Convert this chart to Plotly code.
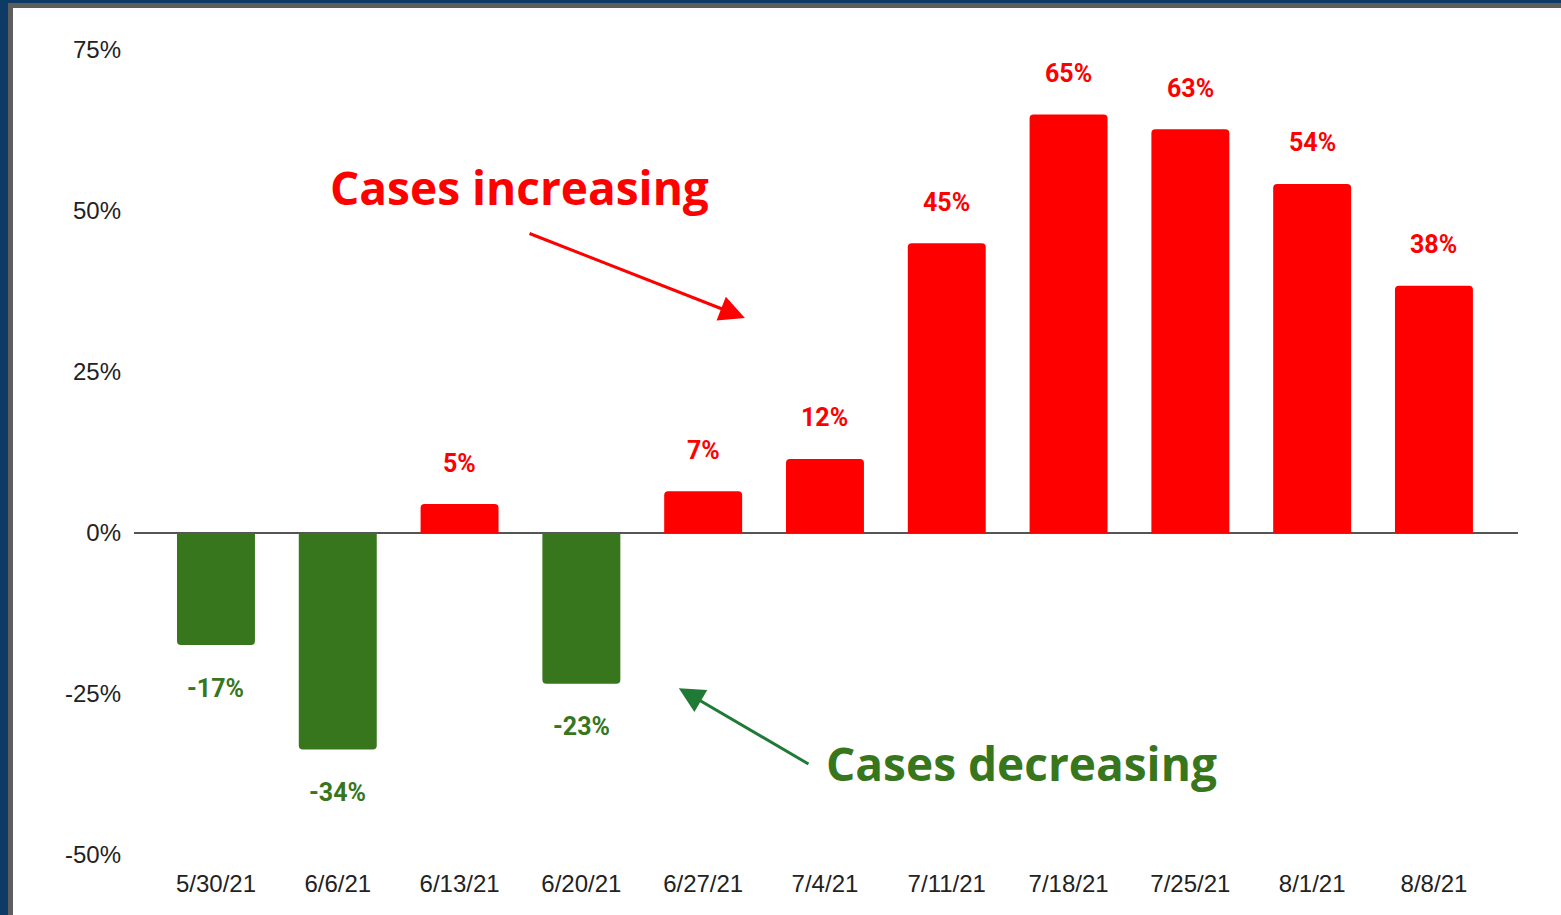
import plotly.graph_objects as go

weeks = ["5/30/21", "6/6/21", "6/13/21", "6/20/21", "6/27/21", "7/4/21",
         "7/11/21", "7/18/21", "7/25/21", "8/1/21", "8/8/21"]
pct_change = [-17.4, -33.6, 4.5, -23.4, 6.5, 11.5, 45.0, 65.0, 62.7, 54.2, 38.4]
value_labels = ["-17%", "-34%", "5%", "-23%", "7%", "12%", "45%", "65%", "63%", "54%", "38%"]
y_ticks = [-50, -25, 0, 25, 50, 75]
y_tick_labels = ["-50%", "-25%", "0%", "25%", "50%", "75%"]

RED = "#ff0000"
GREEN = "#38761d"
ARROW_GREEN = "#1f7a35"

colors = [RED if v >= 0 else GREEN for v in pct_change]
xs = list(range(len(weeks)))

fig = go.Figure()
fig.add_trace(go.Bar(x=xs, y=pct_change, marker=dict(color=colors, line=dict(width=0)),
                     width=0.64, hoverinfo="skip"))

annotations = []
for i, (v, lab, c) in enumerate(zip(pct_change, value_labels, colors)):
    annotations.append(dict(x=i, y=v, xref="x", yref="y", text=f"<b>{lab}</b>",
                            showarrow=False, yshift=41 if v >= 0 else -43,
                            font=dict(family="Roboto", size=25, color=c)))

# callout arrows
annotations.append(dict(x=4.343, y=33.4, ax=2.562, ay=46.6, xref="x", yref="y",
                        axref="x", ayref="y", text="", showarrow=True,
                        arrowhead=2, arrowsize=1.7, arrowwidth=3, arrowcolor=RED))
annotations.append(dict(x=3.80, y=-24.1, ax=4.877, ay=-36.0, xref="x", yref="y",
                        axref="x", ayref="y", text="", showarrow=True,
                        arrowhead=2, arrowsize=1.7, arrowwidth=3, arrowcolor=ARROW_GREEN))
annotations.append(dict(x=2.496, y=53.7, xref="x", yref="y", text="<b>Cases increasing</b>",
                        showarrow=False, font=dict(family="Open Sans", size=46, color=RED)))
annotations.append(dict(x=6.617, y=-35.7, xref="x", yref="y", text="<b>Cases decreasing</b>",
                        showarrow=False, font=dict(family="Open Sans", size=46, color=GREEN)))

# frame borders (pixels -> paper fractions)
L, R, T, B = 134, 1518, 50, 855
W, H = R - L, B - T
def px(p):
    return (p - L) / W
def py(r):
    return (B - r) / H

shapes = [
    dict(type="rect", xref="paper", yref="paper", x0=px(0), x1=px(8), y0=py(915), y1=py(0),
         fillcolor="#0d3b66", line=dict(width=0), layer="above"),
    dict(type="rect", xref="paper", yref="paper", x0=px(0), x1=px(1561), y0=py(3), y1=py(0),
         fillcolor="#0d3b66", line=dict(width=0), layer="above"),
    dict(type="rect", xref="paper", yref="paper", x0=px(8), x1=px(13), y0=py(915), y1=py(3),
         fillcolor="#5e5e5e", line=dict(width=0), layer="above"),
    dict(type="rect", xref="paper", yref="paper", x0=px(8), x1=px(1561), y0=py(8), y1=py(3),
         fillcolor="#5e5e5e", line=dict(width=0), layer="above"),
]

fig.update_layout(
    width=1561, height=915,
    margin=dict(l=L, r=1561 - R, t=T, b=915 - B),
    paper_bgcolor="white", plot_bgcolor="white",
    showlegend=False,
    barcornerradius=4,
    annotations=annotations,
    shapes=shapes,
    xaxis=dict(range=[-0.673, 10.69], tickmode="array", tickvals=xs, ticktext=weeks,
               showgrid=False, zeroline=False, showline=False, ticks="",
               tickfont=dict(family="Liberation Sans, Arial", size=24, color="#222222"),
               ticklabelstandoff=12),
    yaxis=dict(range=[-50, 75], tickmode="array", tickvals=y_ticks, ticktext=y_tick_labels,
               showgrid=False, zeroline=True, zerolinecolor="#555555", zerolinewidth=2,
               showline=False, ticks="",
               tickfont=dict(family="Liberation Sans, Arial", size=24, color="#222222"),
               ticklabelstandoff=12),
)

fig.write_html("out.html", config={"displayModeBar": False},
               post_script="document.body.style.margin='0';document.body.style.overflow='hidden';")
